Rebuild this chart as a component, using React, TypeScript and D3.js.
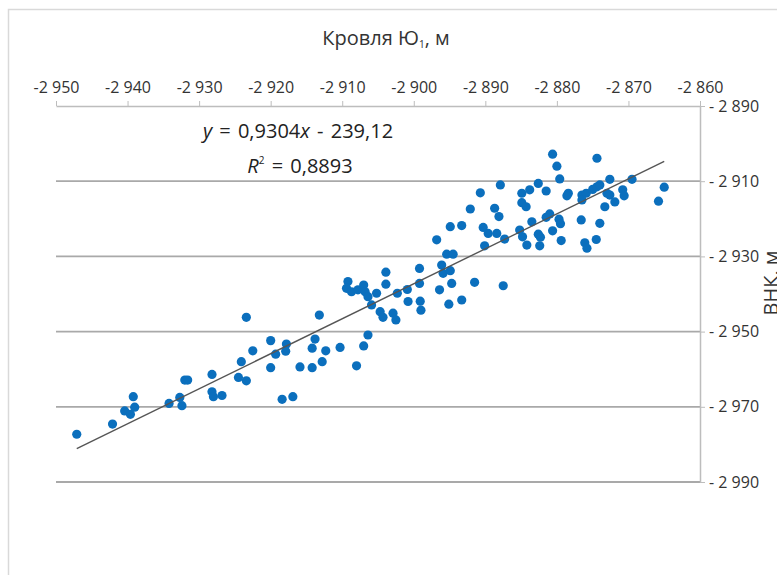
import React, { useEffect, useRef } from 'react';
import * as d3 from 'd3';

// Кровля Ю1 (x) and ВНК (y), metres
const krovlya = [
  -2947.1, -2942.1, -2940.4, -2939.6, -2939.0, -2939.2, -2934.2, -2932.7, -2932.4, -2932.0,
  -2931.6, -2928.2, -2928.2, -2928.0, -2926.8, -2924.5, -2924.1, -2923.4, -2923.4, -2922.5,
  -2920.0, -2920.0, -2919.3, -2917.8, -2917.9, -2918.4, -2916.9, -2915.9, -2914.2, -2914.2,
  -2913.8, -2913.2, -2912.8, -2912.3, -2910.3, -2908.0, -2907.0, -2906.4, -2909.2, -2909.4,
  -2908.7, -2907.8, -2907.0, -2906.8, -2906.4, -2905.2, -2905.9, -2904.7, -2904.3, -2902.9,
  -2902.5, -2903.9, -2903.9, -2902.3, -2900.9, -2900.8, -2899.2, -2899.2, -2899.1, -2899.0,
  -2896.8, -2895.4, -2894.5, -2894.9, -2893.3, -2896.1, -2895.9, -2894.9, -2894.7, -2896.4,
  -2895.1, -2893.3, -2891.5, -2880.6, -2880.0, -2879.6, -2887.9, -2890.7, -2892.1, -2887.5,
  -2888.7, -2888.1, -2890.3, -2889.6, -2888.4, -2890.1, -2887.3, -2884.9, -2883.8, -2882.6,
  -2881.5, -2884.9, -2884.3, -2883.5, -2885.2, -2884.8, -2884.2, -2882.6, -2882.3, -2882.4,
  -2881.5, -2881.0, -2880.6, -2879.7, -2879.5, -2879.4, -2874.4, -2878.4, -2878.6, -2876.6,
  -2876.1, -2875.8, -2874.5, -2874.0, -2876.5, -2875.9, -2876.5, -2875.0, -2874.4, -2874.0,
  -2873.3, -2873.0, -2872.6, -2872.6, -2871.9, -2870.8, -2870.6, -2869.5, -2865.8, -2865.0,
];
const vnk = [
  -2977.3, -2974.6, -2971.1, -2972.0, -2970.1, -2967.3, -2969.1, -2967.5, -2969.7, -2962.9,
  -2962.9, -2961.4, -2966.0, -2967.3, -2967.0, -2962.2, -2958.0, -2963.1, -2946.2, -2955.1,
  -2952.4, -2959.6, -2956.0, -2953.3, -2955.2, -2968.0, -2967.3, -2959.4, -2959.6, -2954.4,
  -2952.0, -2945.6, -2958.0, -2955.1, -2954.2, -2959.1, -2953.8, -2950.9, -2936.7, -2938.5,
  -2939.4, -2938.9, -2937.6, -2939.4, -2940.7, -2939.8, -2942.9, -2944.7, -2946.2, -2945.1,
  -2946.9, -2934.2, -2937.4, -2939.8, -2938.8, -2942.0, -2933.2, -2937.2, -2941.9, -2944.3,
  -2925.6, -2929.4, -2929.4, -2922.1, -2921.8, -2932.3, -2934.5, -2933.8, -2937.2, -2938.9,
  -2942.7, -2941.6, -2936.9, -2902.8, -2906.0, -2909.4, -2911.0, -2913.1, -2917.4, -2937.8,
  -2917.2, -2919.4, -2922.3, -2923.9, -2923.9, -2927.2, -2925.4, -2913.2, -2912.3, -2910.6,
  -2912.6, -2915.7, -2916.8, -2920.8, -2923.0, -2924.8, -2927.0, -2924.1, -2924.9, -2927.2,
  -2919.6, -2918.7, -2923.2, -2920.1, -2921.3, -2925.8, -2903.9, -2913.2, -2913.9, -2920.3,
  -2926.4, -2927.8, -2925.5, -2921.2, -2913.7, -2913.2, -2915.0, -2912.2, -2911.5, -2911.0,
  -2916.8, -2913.2, -2913.7, -2909.5, -2915.5, -2912.3, -2913.9, -2909.5, -2915.3, -2911.6,
];

const xTicks = [-2950, -2940, -2930, -2920, -2910, -2900, -2890, -2880, -2870, -2860];
const yTicks = [-2890, -2910, -2930, -2950, -2970, -2990];
const slope = 0.9304;
const intercept = -239.12;

const fmt = (v: number) => '-2 ' + String(Math.abs(v)).slice(1);

const App = () => {
  const ref = useRef<SVGGElement>(null);

  useEffect(() => {
    const x = d3.scaleLinear().domain([-2950, -2860]).range([56, 700]);
    const y = d3.scaleLinear().domain([-2890, -2990]).range([106, 482]);
    const g = d3.select(ref.current);
    g.selectAll('*').remove();

    // horizontal gridlines
    g.selectAll('line.grid')
      .data(yTicks.slice(1))
      .enter()
      .append('line')
      .attr('class', 'grid')
      .attr('x1', x(-2950))
      .attr('x2', x(-2860))
      .attr('y1', (d) => y(d))
      .attr('y2', (d) => y(d))
      .attr('stroke', '#a9a9a9')
      .attr('stroke-width', 1.8);

    // top axis
    const top = d3
      .axisTop(x)
      .tickValues(xTicks)
      .tickSize(5)
      .tickSizeOuter(0)
      .tickFormat((d) => fmt(d as number));
    const ta = g.append('g').attr('transform', `translate(0,${y(-2890)})`).call(top);
    ta.select('.domain').attr('stroke', '#bdbdbd').attr('stroke-width', 1.5);
    ta.selectAll('.tick line').attr('stroke', '#bdbdbd');
    ta.selectAll('.tick text')
      .attr('fill', '#333')
      .attr('font-size', 16)
      .attr('font-family', 'Open Sans')
      .attr('dy', '-0.3em');

    // right axis
    const right = d3
      .axisRight(y)
      .tickValues(yTicks)
      .tickSize(5)
      .tickSizeOuter(0)
      .tickFormat((d) => '- ' + fmt(d as number).slice(1));
    const ra = g.append('g').attr('transform', `translate(${x(-2860)},0)`).call(right);
    ra.select('.domain').attr('stroke', '#bdbdbd').attr('stroke-width', 1.5);
    ra.selectAll('.tick line').attr('stroke', '#bdbdbd');
    ra.selectAll('.tick text')
      .attr('fill', '#333')
      .attr('font-size', 16)
      .attr('font-family', 'Open Sans')
      .attr('x', 9);

    // points
    const pts = krovlya.map((k, i) => [k, vnk[i]]);
    g.selectAll('circle.pt')
      .data(pts)
      .enter()
      .append('circle')
      .attr('class', 'pt')
      .attr('cx', (d) => x(d[0]))
      .attr('cy', (d) => y(d[1]))
      .attr('r', 4.6)
      .attr('fill', '#0b6fbd');

    // trend line
    const ext = d3.extent(krovlya) as [number, number];
    const line = d3
      .line<number>()
      .x((d) => x(d))
      .y((d) => y(slope * d + intercept));
    g.append('path')
      .attr('d', line(ext))
      .attr('stroke', '#555')
      .attr('stroke-width', 1.4)
      .attr('fill', 'none');
  }, []);

  const font = 'Open Sans';
  return (
    <div style={{ position: 'fixed', left: 0, top: 0 }}>
      <svg width={777} height={575} style={{ display: 'block', background: '#fff' }}>
        <rect x={8.5} y={9.5} width={800} height={600} fill="none" stroke="#d9d9d9" strokeWidth={1.5} />
        <text x={386} y={45} textAnchor="middle" fontFamily={font} fontSize={20} fill="#333">
          Кровля Ю<tspan fontSize={10} dy={3}>1</tspan>
          <tspan dy={-3}>, м</tspan>
        </text>
        <text x={298} y={138} textAnchor="middle" fontFamily={font} fontSize={20} fill="#222" wordSpacing={2}>
          <tspan fontStyle="italic">y</tspan> = 0,9304<tspan fontStyle="italic">x</tspan> - 239,12
        </text>
        <text x={300} y={173} textAnchor="middle" fontFamily={font} fontSize={20} fill="#222" wordSpacing={2}>
          <tspan fontStyle="italic">R</tspan>
          <tspan fontSize={10} dy={-9}>2</tspan>
          <tspan dy={9}> = 0,8893</tspan>
        </text>
        <text
          transform="translate(778,283) rotate(-90)"
          textAnchor="middle"
          fontFamily={font}
          fontSize={20}
          fill="#333"
        >
          ВНК, м
        </text>
        <g ref={ref} />
      </svg>
    </div>
  );
};

export default App;
